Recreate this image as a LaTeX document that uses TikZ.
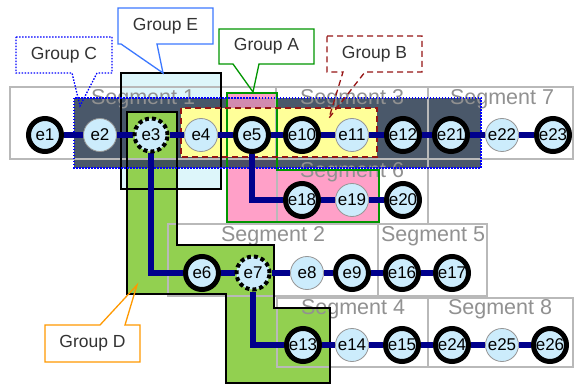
\documentclass[tikz,border=0pt]{standalone}
\usepackage{fontspec}
\setmainfont{Liberation Sans}
\definecolor{navy}{RGB}{0,0,140}
\definecolor{nodefill}{RGB}{204,236,252}
\definecolor{darkc}{RGB}{55,70,90}
\definecolor{cyanE}{RGB}{221,246,250}
\definecolor{greenD}{RGB}{146,208,80}
\definecolor{pinkA}{RGB}{255,160,200}
\definecolor{yellowB}{RGB}{255,255,153}
\definecolor{redB}{RGB}{150,20,20}
\definecolor{greenA}{RGB}{0,150,0}
\definecolor{blueE}{RGB}{60,120,255}
\definecolor{orangeD}{RGB}{255,153,0}
\definecolor{segline}{RGB}{185,185,185}
\definecolor{segtext}{RGB}{145,145,145}
\definecolor{thinring}{RGB}{150,150,150}
\pgfdeclarelayer{bg}
\pgfdeclarelayer{edges}
\pgfsetlayers{bg,edges,main}
\begin{document}
\begin{tikzpicture}[x=1pt,y=-1pt,
  seg/.style={draw=segline, line width=1.3pt},
  seglabel/.style={text=segtext, font=\fontsize{21.5}{21.5}\selectfont, inner sep=0pt},
  nd/.style={circle, fill=nodefill, minimum size=33pt, inner sep=0pt, font=\fontsize{17}{17}\selectfont},
  ndthick/.style={nd, draw=black, line width=5pt},
  ndthin/.style={nd, draw=thinring, line width=0.8pt},
  nddash/.style={nd, draw=black, line width=4pt, dash pattern=on 4pt off 3pt},
  link/.style={draw=navy, line width=6pt},
  callbox/.style={fill=white},
  callline/.style={line width=1.3pt, line join=miter},
  calltext/.style={font=\fontsize{17.5}{17.5}\selectfont, text=black!80, inner sep=0pt},
]
\useasboundingbox (0,0) rectangle (576,385);

\begin{pgfonlayer}{bg}
\fill[white] (0,0) rectangle (576,385);
% group fills
\fill[cyanE] (121,73) rectangle (221,189);
\fill[greenD] (127,112) -- (177,112) -- (177,245) -- (274,245) -- (274,308) -- (330,308) -- (330,383) -- (226,383) -- (226,294) -- (127,294) -- cycle;
\fill[pinkA] (227,93) -- (277,93) -- (277,170) -- (379,170) -- (379,222) -- (227,222) -- cycle;
\fill[darkc, opacity=0.9] (74,98) rectangle (481,168);
\fill[pinkA, opacity=0.75] (227,93) rectangle (277,108);
\fill[greenD] (127,112) rectangle (177,158);
\fill[yellowB] (181,108) rectangle (377,157);
% segments
\draw[seg] (10,87) rectangle (276,159);
\draw[seg] (276,87) rectangle (428,159);
\draw[seg] (428,87) rectangle (573,159);
\draw[seg] (277,159) rectangle (428,224);
\draw[seg] (168,224) rectangle (378,296);
\draw[seg] (378,224) rectangle (487,296);
\draw[seg] (277,298) rectangle (428,367);
\draw[seg] (428,298) rectangle (573,367);
\node[seglabel] (s1) at (143,99) {Segment 1};
\node[seglabel] (s3) at (352,99) {Segment 3};
\node[seglabel] (s7) at (502,99) {Segment 7};
\node[seglabel] (s6) at (352,172) {Segment 6};
\node[seglabel] (s2) at (273,236) {Segment 2};
\node[seglabel] (s5) at (433,236) {Segment 5};
\node[seglabel] (s4) at (353,309) {Segment 4};
\node[seglabel] (s8) at (500,309) {Segment 8};
% group outlines
\draw[black, line width=1.5pt] (121,73) rectangle (221,189);
\draw[black, line width=1.5pt, line join=miter] (127,112) -- (177,112) -- (177,245) -- (274,245) -- (274,308) -- (330,308) -- (330,383) -- (226,383) -- (226,294) -- (127,294) -- cycle;
\draw[greenA, line width=1.5pt, line join=miter] (227,93) -- (277,93) -- (277,170) -- (379,170) -- (379,222) -- (227,222) -- cycle;
\draw[redB, line width=2pt, dash pattern=on 6pt off 4pt] (181,108) rectangle (377,157);
\draw[blue, line width=2pt, dash pattern=on 1.5pt off 1.5pt] (74,98) rectangle (481,168);
\end{pgfonlayer}

% nodes row 1
\node[ndthick] (e1) at (45,135) {e1};
\node[ndthin] (e2) at (100,135) {e2};
\node[nddash] (e3) at (151,135) {e3};
\node[ndthin] (e4) at (201,135) {e4};
\node[ndthick] (e5) at (252,135) {e5};
\node[ndthick] (e10) at (302,135) {e10};
\node[ndthin] (e11) at (352,135) {e11};
\node[ndthick] (e12) at (403,135) {e12};
\node[ndthick] (e21) at (451,135) {e21};
\node[ndthin] (e22) at (502,135) {e22};
\node[ndthick] (e23) at (553,135) {e23};
% row 2
\node[ndthick] (e18) at (302,200) {e18};
\node[ndthin] (e19) at (352,200) {e19};
\node[ndthick] (e20) at (403,200) {e20};
% row 3
\node[ndthick] (e6) at (202,273) {e6};
\node[nddash] (e7) at (253,273) {e7};
\node[ndthin] (e8) at (307,273) {e8};
\node[ndthick] (e9) at (352,273) {e9};
\node[ndthick] (e16) at (402,273) {e16};
\node[ndthick] (e17) at (452,273) {e17};
% row 4
\node[ndthick] (e13) at (303,345) {e13};
\node[ndthin] (e14) at (352,345) {e14};
\node[ndthick] (e15) at (402,345) {e15};
\node[ndthick] (e24) at (452,345) {e24};
\node[ndthin] (e25) at (502,345) {e25};
\node[ndthick] (e26) at (550,345) {e26};

\begin{pgfonlayer}{edges}
\draw[link] (e1) -- (e2) -- (e3) -- (e4) -- (e5) -- (e10) -- (e11) -- (e12) -- (e21) -- (e22) -- (e23);
\draw[link] (e3) |- (e6);
\draw[link] (e5) |- (e18);
\draw[link] (e7) |- (e13);
\draw[link] (e18) -- (e19) -- (e20);
\draw[link] (e6) -- (e7) -- (e8) -- (e9) -- (e16) -- (e17);
\draw[link] (e13) -- (e14) -- (e15) -- (e24) -- (e25) -- (e26);
\end{pgfonlayer}

% callouts
\fill[callbox] (16,37) rectangle (112,73);
\draw[callline, blue, dash pattern=on 1.5pt off 1.5pt] (16,37) -- (112,37) -- (112,73) -- (97,73) -- (80,106) -- (72,73) -- (16,73) -- cycle;
\node[calltext] (lblC) at (64,55) {Group C};

\fill[callbox] (118,8) rectangle (213,44);
\draw[callline, blueE] (118,8) -- (213,8) -- (213,44) -- (157,44) -- (163,73) -- (121,44) -- (118,44) -- cycle;
\node[calltext] (lblE) at (165.5,26) {Group E};

\fill[callbox] (219,29) rectangle (314,64);
\draw[callline, greenA] (219,29) -- (314,29) -- (314,64) -- (259,64) -- (253,92) -- (233,64) -- (219,64) -- cycle;
\node[calltext] (lblA) at (266.5,46.5) {Group A};

\fill[callbox] (327,36) rectangle (422,72);
\draw[callline, redB, dash pattern=on 6pt off 4pt] (327,36) -- (422,36) -- (422,72) -- (365,72) -- (329,118) -- (343,72) -- (327,72) -- cycle;
\node[calltext] (lblB) at (374.5,54) {Group B};

\fill[callbox] (45,325) rectangle (140,362);
\draw[callline, orangeD] (45,325) -- (100,325) -- (137,285) -- (125,325) -- (140,325) -- (140,362) -- (45,362) -- cycle;
\node[calltext] (lblD) at (92.5,343.5) {Group D};
\end{tikzpicture}
\end{document}
